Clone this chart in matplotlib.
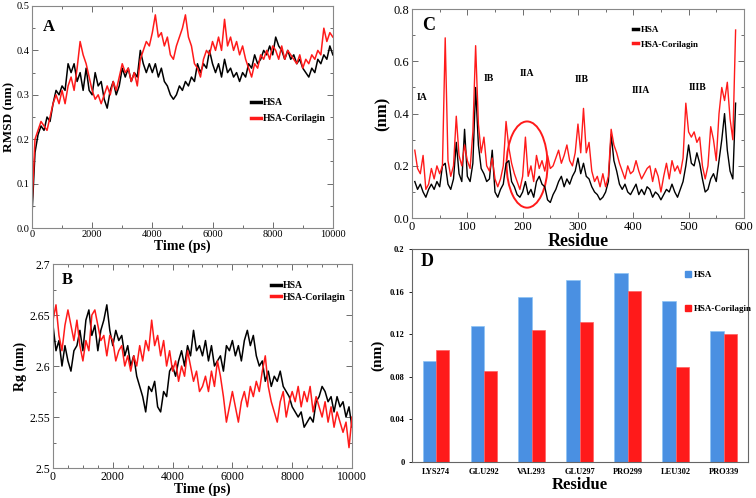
import matplotlib
matplotlib.use("Agg")
import matplotlib.pyplot as plt
import numpy as np
from matplotlib.patches import Ellipse
from matplotlib.lines import Line2D
from matplotlib.ticker import MultipleLocator

plt.rcParams['font.family'] = ['Liberation Serif', 'DejaVu Serif']

# ---- data ----
time_ps = list(range(0, 10001, 100))

rmsd_hsa = [0.03, 0.17, 0.21, 0.23, 0.22, 0.25, 0.24, 0.28, 0.31, 0.30,
            0.32, 0.31, 0.37, 0.35, 0.37, 0.33, 0.35, 0.31, 0.36, 0.31,
            0.30, 0.35, 0.32, 0.33, 0.29, 0.27, 0.31, 0.33, 0.30, 0.32,
            0.36, 0.34, 0.36, 0.33, 0.35, 0.34, 0.40, 0.37, 0.35, 0.37,
            0.35, 0.37, 0.34, 0.36, 0.33, 0.32, 0.30, 0.29, 0.30, 0.32,
            0.31, 0.33, 0.32, 0.34, 0.33, 0.37, 0.35, 0.37, 0.36, 0.40,
            0.37, 0.35, 0.37, 0.34, 0.38, 0.35, 0.36, 0.34, 0.35, 0.33,
            0.35, 0.34, 0.37, 0.36, 0.39, 0.37, 0.38, 0.40, 0.39, 0.41,
            0.39, 0.43, 0.41, 0.40, 0.38, 0.40, 0.38, 0.39, 0.37, 0.38,
            0.36, 0.35, 0.34, 0.36, 0.35, 0.38, 0.37, 0.39, 0.38, 0.41,
            0.39]
rmsd_cor = [0.05, 0.20, 0.22, 0.24, 0.23, 0.22, 0.25, 0.28, 0.30, 0.28,
            0.31, 0.28, 0.32, 0.34, 0.31, 0.36, 0.42, 0.39, 0.37, 0.34,
            0.31, 0.29, 0.30, 0.28, 0.30, 0.32, 0.30, 0.33, 0.31, 0.34,
            0.37, 0.35, 0.36, 0.33, 0.35, 0.32, 0.38, 0.40, 0.42, 0.41,
            0.44, 0.48, 0.43, 0.44, 0.41, 0.43, 0.39, 0.38, 0.41, 0.43,
            0.45, 0.48, 0.43, 0.41, 0.37, 0.36, 0.34, 0.38, 0.40, 0.39,
            0.42, 0.40, 0.43, 0.40, 0.47, 0.41, 0.43, 0.40, 0.42, 0.39,
            0.41, 0.38, 0.36, 0.34, 0.37, 0.36, 0.39, 0.38, 0.40, 0.38,
            0.41, 0.40, 0.38, 0.41, 0.38, 0.40, 0.39, 0.38, 0.37, 0.39,
            0.36, 0.38, 0.37, 0.39, 0.38, 0.40, 0.39, 0.45, 0.42, 0.44,
            0.43]

rg_hsa = [2.64, 2.615, 2.625, 2.60, 2.62, 2.605, 2.595, 2.615, 2.62, 2.635,
          2.615, 2.645, 2.655, 2.63, 2.64, 2.615, 2.635, 2.645, 2.66, 2.635,
          2.62, 2.635, 2.625, 2.63, 2.61, 2.62, 2.60, 2.61, 2.59, 2.58,
          2.57, 2.555, 2.58, 2.575, 2.585, 2.56, 2.555, 2.575, 2.57, 2.595,
          2.60, 2.59, 2.605, 2.615, 2.60, 2.62, 2.61, 2.635, 2.615, 2.62,
          2.61, 2.625, 2.605, 2.62, 2.60, 2.605, 2.61, 2.595, 2.62, 2.615,
          2.625, 2.61, 2.62, 2.605, 2.625, 2.635, 2.62, 2.63, 2.61, 2.60,
          2.605, 2.585, 2.595, 2.58, 2.59, 2.585, 2.595, 2.58, 2.575, 2.57,
          2.56, 2.555, 2.55, 2.555, 2.54, 2.545, 2.55, 2.545, 2.565, 2.57,
          2.58, 2.575, 2.565, 2.57, 2.555, 2.57, 2.56, 2.565, 2.55, 2.56,
          2.54]
rg_cor = [2.645, 2.66, 2.63, 2.615, 2.64, 2.655, 2.64, 2.625, 2.645, 2.62,
          2.605, 2.625, 2.615, 2.65, 2.655, 2.64, 2.625, 2.63, 2.61, 2.63,
          2.625, 2.605, 2.615, 2.62, 2.60, 2.61, 2.595, 2.61, 2.60, 2.62,
          2.605, 2.625, 2.615, 2.645, 2.62, 2.63, 2.61, 2.625, 2.60, 2.615,
          2.595, 2.605, 2.585, 2.60, 2.59, 2.615, 2.60, 2.585, 2.595, 2.575,
          2.58, 2.59, 2.575, 2.595, 2.58, 2.605, 2.59, 2.57, 2.545, 2.56,
          2.575, 2.56, 2.545, 2.565, 2.575, 2.56, 2.58, 2.57, 2.585, 2.575,
          2.595, 2.61, 2.58, 2.565, 2.555, 2.545, 2.565, 2.575, 2.55, 2.565,
          2.575, 2.565, 2.58, 2.56, 2.575, 2.565, 2.58, 2.555, 2.57, 2.56,
          2.55, 2.565, 2.545, 2.56, 2.54, 2.555, 2.545, 2.535, 2.545, 2.52,
          2.55]

residue = list(range(5, 586, 5))
rmsf_hsa = [0.14, 0.11, 0.13, 0.10, 0.08, 0.11, 0.13, 0.11, 0.14, 0.12,
            0.20, 0.21, 0.13, 0.11, 0.15, 0.29, 0.17, 0.14, 0.34, 0.16,
            0.14, 0.21, 0.50, 0.28, 0.19, 0.17, 0.14, 0.15, 0.26, 0.10,
            0.08, 0.11, 0.13, 0.21, 0.22, 0.14, 0.12, 0.09, 0.08, 0.10,
            0.14, 0.09, 0.11, 0.08, 0.14, 0.16, 0.13, 0.12, 0.07, 0.06,
            0.09, 0.11, 0.14, 0.16, 0.12, 0.15, 0.13, 0.16, 0.18, 0.23,
            0.17, 0.21, 0.16, 0.15, 0.12, 0.10, 0.09, 0.07, 0.08, 0.10,
            0.14, 0.32, 0.22, 0.18, 0.13, 0.11, 0.13, 0.10, 0.09, 0.11,
            0.13, 0.09, 0.11, 0.09, 0.12, 0.11, 0.08, 0.10, 0.09, 0.07,
            0.09, 0.11, 0.10, 0.13, 0.10, 0.08, 0.11, 0.14, 0.20, 0.28,
            0.21, 0.20, 0.25, 0.21, 0.15, 0.10, 0.11, 0.15, 0.17, 0.14,
            0.22, 0.30, 0.40, 0.26, 0.18, 0.15, 0.44]
rmsf_cor = [0.26, 0.19, 0.17, 0.24, 0.11, 0.13, 0.19, 0.15, 0.20, 0.17,
            0.20, 0.69, 0.22, 0.16, 0.20, 0.39, 0.24, 0.20, 0.28, 0.22,
            0.19, 0.33, 0.66, 0.36, 0.25, 0.31, 0.20, 0.18, 0.23, 0.15,
            0.12, 0.15, 0.20, 0.37, 0.27, 0.21, 0.17, 0.14, 0.11, 0.16,
            0.31, 0.16, 0.20, 0.14, 0.24, 0.19, 0.22, 0.18, 0.24, 0.19,
            0.20, 0.23, 0.26, 0.21, 0.24, 0.28, 0.22, 0.20, 0.25, 0.36,
            0.25, 0.42, 0.25, 0.29, 0.18, 0.14, 0.16, 0.12, 0.17, 0.12,
            0.16, 0.34, 0.28, 0.25, 0.21, 0.18, 0.15, 0.20, 0.17, 0.18,
            0.22, 0.18, 0.15, 0.17, 0.19, 0.20, 0.14, 0.19, 0.16, 0.10,
            0.16, 0.21, 0.15, 0.22, 0.18, 0.20, 0.17, 0.23, 0.44, 0.33,
            0.31, 0.33, 0.29, 0.31, 0.20, 0.15, 0.20, 0.35, 0.30, 0.22,
            0.40, 0.50, 0.45, 0.52, 0.38, 0.30, 0.72]

domains = ['IA', 'IB', 'IIA', 'IIB', 'IIIA', 'IIIB']
domain_x = [18, 138, 207, 307, 414, 517]
domain_y = [0.46, 0.535, 0.555, 0.53, 0.49, 0.50]

site_res = ['LYS274', 'GLU292', 'VAL293', 'GLU297', 'PRO299', 'LEU302', 'PRO339']
site_hsa = [0.095, 0.128, 0.155, 0.171, 0.177, 0.151, 0.123]
site_cor = [0.105, 0.085, 0.124, 0.131, 0.161, 0.089, 0.120]

RED = '#ff1a1a'
BLUE = '#4a90e2'

fig = plt.figure(figsize=(7.56, 4.98), dpi=100)


def grace_ticks(ax, size=8.5, pad=2):
    ax.tick_params(which='both', direction='in', top=True, right=True, pad=pad,
                   labelsize=size, width=0.6, colors='#555555', labelcolor='black')
    ax.tick_params(which='major', length=4)
    ax.tick_params(which='minor', length=2)
    for s in ax.spines.values():
        s.set_color('#888888')
        s.set_linewidth(0.8)


# ---- A: RMSD ----
axA = fig.add_axes([0.0423, 0.542, 0.398, 0.446])
axA.plot(time_ps, rmsd_hsa, color='black', lw=1.1, label='HSA')
axA.plot(time_ps, rmsd_cor, color=RED, lw=1.1, label='HSA-Corilagin')
axA.set_xlim(0, 10000)
axA.set_ylim(0, 0.5)
axA.xaxis.set_major_locator(MultipleLocator(2000))
axA.xaxis.set_minor_locator(MultipleLocator(1000))
axA.yaxis.set_major_locator(MultipleLocator(0.1))
axA.yaxis.set_minor_locator(MultipleLocator(0.05))
grace_ticks(axA, size=7.5, pad=1.5)
axA.set_ylabel('RMSD (nm)', fontsize=9.5, fontweight='bold')
axA.yaxis.set_label_coords(-0.056, 0.5)
axA.set_xlabel('Time (ps)', fontsize=10, fontweight='bold', labelpad=0)
axA.text(0.035, 0.905, 'A', transform=axA.transAxes, fontsize=12,
         fontweight='bold', va='center')
lg = axA.legend(loc='upper left', bbox_to_anchor=(0.70, 0.625), frameon=False,
                fontsize=7, handlelength=1.0, handletextpad=0.2, labelspacing=0.75)
for t in lg.get_texts():
    t.set_fontweight('bold')
for h in lg.get_lines():
    h.set_linewidth(2.5)

# ---- B: Rg ----
axB = fig.add_axes([0.0701, 0.0602, 0.3955, 0.4096])
axB.plot(time_ps, rg_hsa, color='black', lw=1.1, label='HSA')
axB.plot(time_ps, rg_cor, color=RED, lw=1.1, label='HSA-Corilagin')
axB.set_xlim(0, 10000)
axB.set_ylim(2.5, 2.7)
axB.xaxis.set_major_locator(MultipleLocator(2000))
axB.xaxis.set_minor_locator(MultipleLocator(500))
axB.yaxis.set_minor_locator(MultipleLocator(0.025))
axB.set_yticks([2.5, 2.55, 2.6, 2.65, 2.7])
axB.set_yticklabels(['2.5', '2.55', '2.6', '2.65', '2.7'])
grace_ticks(axB)
axB.set_ylabel('Rg (nm)', fontsize=10, fontweight='bold', labelpad=2)
axB.set_xlabel('Time (ps)', fontsize=10, fontweight='bold', labelpad=0)
axB.text(0.03, 0.92, 'B', transform=axB.transAxes, fontsize=12,
         fontweight='bold', va='center')
lg = axB.legend(loc='upper left', bbox_to_anchor=(0.70, 0.96), frameon=False,
                fontsize=7, handlelength=1.0, handletextpad=0.2, labelspacing=0.3)
for t in lg.get_texts():
    t.set_fontweight('bold')
for h in lg.get_lines():
    h.set_linewidth(2.5)

# ---- C: RMSF ----
axC = fig.add_axes([0.545, 0.562, 0.439, 0.4197])
axC.plot(residue, rmsf_hsa, color='black', lw=1.0, label='HSA')
axC.plot(residue, rmsf_cor, color=RED, lw=1.0, label='HSA-Corilagin')
axC.set_xlim(0, 600)
axC.set_ylim(0, 0.8)
axC.xaxis.set_major_locator(MultipleLocator(100))
axC.xaxis.set_minor_locator(MultipleLocator(50))
axC.yaxis.set_major_locator(MultipleLocator(0.2))
axC.yaxis.set_minor_locator(MultipleLocator(0.1))
grace_ticks(axC, size=9)
axC.set_ylabel('(nm)', fontsize=12, fontweight='bold', labelpad=2)
axC.set_xlabel('Residue', fontsize=13, fontweight='bold', labelpad=0)
axC.text(0.03, 0.92, 'C', transform=axC.transAxes, fontsize=13,
         fontweight='bold', va='center')
for name, x, y in zip(domains, domain_x, domain_y):
    axC.text(x, y, name, fontsize=7, fontweight='bold', ha='center', va='center')
axC.add_patch(Ellipse((208, 0.205), 74, 0.33, fill=False, edgecolor=RED, lw=1.4))
lg = axC.legend(loc='upper left', bbox_to_anchor=(0.64, 0.96), frameon=False,
                fontsize=6.5, handlelength=0.6, handletextpad=0.3, labelspacing=0.7)
for t in lg.get_texts():
    t.set_fontweight('bold')
for h in lg.get_lines():
    h.set_linewidth(2.5)

# ---- D: bars ----
axD = fig.add_axes([0.545, 0.0723, 0.444, 0.4277])
pos = np.arange(len(site_res))
w = 0.28
axD.bar(pos - w / 2, site_hsa, width=w, color=BLUE, edgecolor='#8cc4f5', lw=0.5)
axD.bar(pos + w / 2, site_cor, width=w, color=RED, edgecolor='#ff6060', lw=0.5)
axD.set_xlim(-0.5, 6.5)
axD.set_ylim(0, 0.2)
axD.set_yticks([0, 0.04, 0.08, 0.12, 0.16, 0.2])
axD.set_yticklabels(['0', '0.04', '0.08', '0.12', '0.16', '0.2'])
axD.set_xticks(pos)
axD.set_xticklabels(site_res)
axD.tick_params(axis='both', labelsize=6, length=2, width=0.6)
axD.tick_params(axis='x', length=0, pad=4)
for t in axD.get_xticklabels() + axD.get_yticklabels():
    t.set_fontweight('bold')
for s in axD.spines.values():
    s.set_color('#666666')
    s.set_linewidth(0.8)
axD.set_ylabel('(nm)', fontsize=11, fontweight='bold', labelpad=4)
axD.set_xlabel('Residue', fontsize=12, fontweight='bold', labelpad=1)
axD.text(0.025, 0.94, 'D', transform=axD.transAxes, fontsize=13,
         fontweight='bold', va='center')
handles = [Line2D([], [], marker='s', ls='none', color=BLUE, markersize=4),
           Line2D([], [], marker='s', ls='none', color=RED, markersize=4)]
lg = axD.legend(handles, ['HSA', 'HSA-Corilagin'], loc='upper left',
                bbox_to_anchor=(0.79, 0.935), frameon=False, fontsize=6.5,
                handlelength=0.6, handletextpad=0.3, labelspacing=2.8)
for t in lg.get_texts():
    t.set_fontweight('bold')

fig.savefig('out.png', dpi=100)
